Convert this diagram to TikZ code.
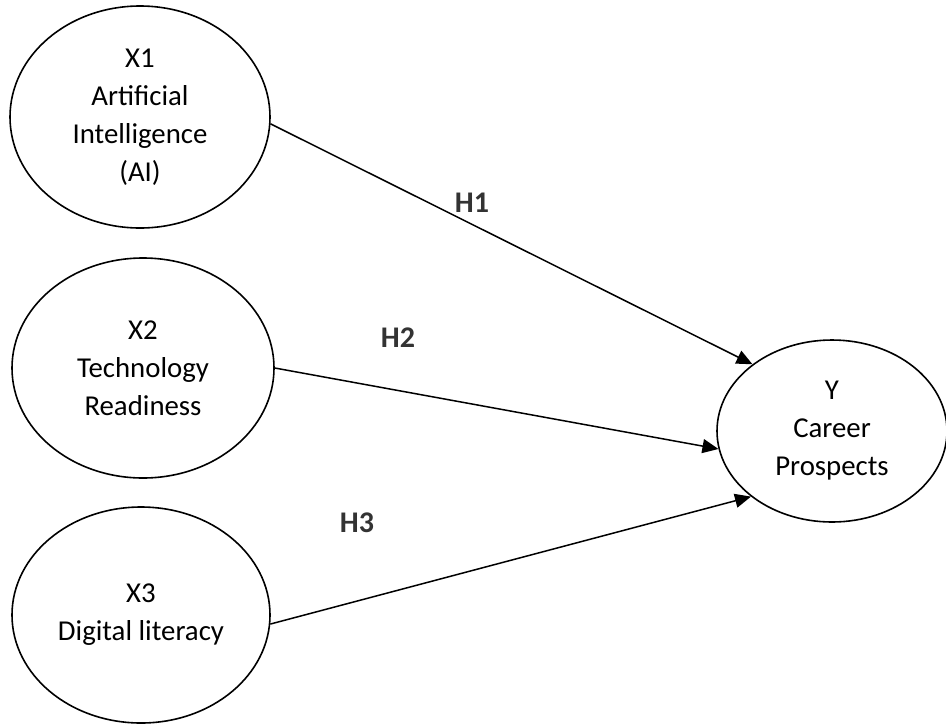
\documentclass[tikz,border=0pt]{standalone}
\usepackage{fontspec}
\setmainfont{Carlito}
\usepackage{xcolor}
\usetikzlibrary{arrows.meta,shapes.geometric}
\definecolor{outlineblack}{HTML}{000000}
\definecolor{hypgray}{HTML}{333333}
\tikzset{
  construct/.style={
    ellipse,
    draw=outlineblack,
    line width=0.8pt,
    inner sep=0pt,
    align=center,
    font=\fontsize{14.4}{19}\selectfont,
  },
  path arrow/.style={
    -{Triangle[length=8pt,width=7pt]},
    line width=0.75pt,
    draw=outlineblack,
  },
  hyp label/.style={
    text=hypgray,
    font=\fontsize{15}{18}\selectfont\bfseries,
    inner sep=1pt,
  },
}
\begin{document}
\begin{tikzpicture}[x=0.5pt,y=-0.5pt]
  \useasboundingbox (0,0) rectangle (946,724);

  \node[construct, minimum width=130pt, minimum height=111pt] (ai) at (140,117) {
    X1\\
    Artificial\\
    Intelligence\\
    (AI)
  };
  \node[construct, minimum width=131pt, minimum height=110pt] (tech) at (143,368) {
    X2\\
    Technology\\
    Readiness
  };
  \node[construct, minimum width=129pt, minimum height=108pt] (digital) at (141,615) {
    X3\\
    Digital literacy
  };
  \node[construct, minimum width=115pt, minimum height=91pt] (career) at (832,431) {
    Y\\
    Career\\
    Prospects
  };

  \draw[path arrow] (ai.-3) -- (career.140);
  \draw[path arrow] (tech.east) -- (career.189);
  \draw[path arrow] (digital.-4) -- (career.219);

  \node[hyp label] (h1) at (472,203) {H1};
  \node[hyp label] (h2) at (398,338) {H2};
  \node[hyp label] (h3) at (357,523) {H3};
\end{tikzpicture}
\end{document}
